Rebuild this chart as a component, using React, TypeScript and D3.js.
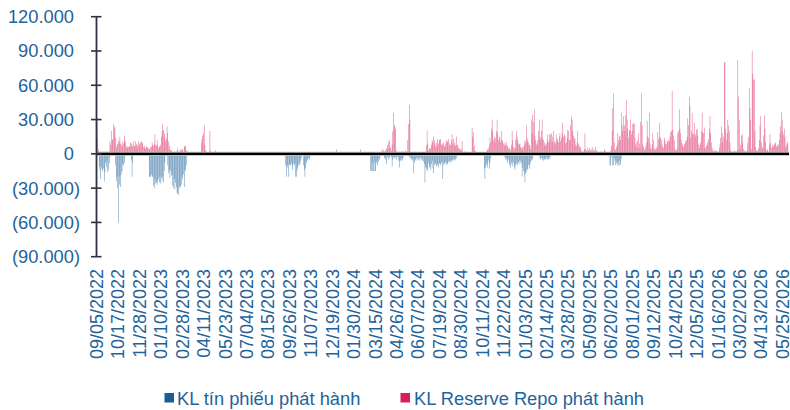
import React from "react";
import * as d3 from "d3";

// ---- Data (values in thousand billion VND; one entry per trading day) ----
const tickLabels = [
  "09/05/2022", "10/17/2022", "11/28/2022", "01/10/2023", "02/28/2023", "04/11/2023",
  "05/23/2023", "07/04/2023", "08/15/2023", "09/26/2023", "11/07/2023", "12/19/2023",
  "01/30/2024", "03/15/2024", "04/26/2024", "06/07/2024", "07/19/2024", "08/30/2024",
  "10/11/2024", "11/22/2024", "01/03/2025", "02/14/2025", "03/28/2025", "05/09/2025",
  "06/20/2025", "08/01/2025", "09/12/2025", "10/24/2025", "12/05/2025", "01/16/2026",
  "03/02/2026", "04/13/2026", "05/25/2026",
];
const tickEvery = 30;
const dayCount = 968;

const yTicks = [-90, -60, -30, 0, 30, 60, 90, 120];

// KL Reserve Repo phát hành (positive)
const repo2022 = [28, 14, 4, 2, 1, 2, 1, 2, 1, 2, 1, 2, 1, 2, 1, 2, 1, 2,
  11, 8, 20, 12, 13, 26, 22, 24, 14, 6, 8, 9, 12, 10, 15, 9, 8, 6, 11, 9, 16, 12, 10, 6, 7, 5, 6, 7, 6,
  10, 9, 8, 6, 11, 7, 7, 11, 9, 8, 6, 11, 9, 7, 10, 11, 9, 10, 6, 7, 5, 5, 7, 6, 5, 5, 4, 4, 6, 6,
  10, 8, 7, 9, 17, 8, 7, 12, 8, 5, 6, 7, 8, 15, 20, 26, 21, 18, 15, 11, 13, 24, 18, 11, 7, 4, 3, 3,
  2, 2, 1, 2, 1, 2, 1, 3, 5, 2, 2, 2, 4, 3, 4, 4, 2, 6, 7, 7, 3, 2, 2];
const repo2023 = [10, 13, 16, 18, 25, 8, 3, 2, 0, 0, 0, 0, 20, 3, 0, 0, 0, 0, 0, 2, 3, 1];
const repo2023b = [4];
const repo2024a = [4];
const repo2024 = [2, 0, 4, 3, 0, 2, 3, 5, 4, 8, 10, 12, 6, 5, 3, 8, 20, 36, 25, 24, 22, 3, 0, 1, 0, 2,
  1, 1, 2, 0, 2, 2, 0, 1, 3, 2, 1, 12, 26, 43, 30, 2,
  1, 1, 0, 1, 2, 1, 0, 1, 2, 1, 0, 1, 1, 1, 1, 0, 1, 1, 0, 1, 2, 7, 20, 9, 3, 5, 4, 5, 8, 12, 10, 15,
  12, 9, 6, 10, 7, 13, 9, 12, 12, 13, 8, 8, 9, 10, 7, 6, 9, 12, 11, 10, 13, 9, 7, 8, 12, 17, 9, 13,
  8, 10, 7, 15, 7, 8, 5, 4, 5, 3, 4, 11, 2, 1, 2, 2, 1, 1, 0, 1, 0, 0, 1, 0, 0, 23, 15, 19, 7, 3, 2,
  1, 1, 0, 0, 0, 0, 0, 0, 0, 0, 0, 0, 0, 1, 2, 3, 4, 5, 8, 14, 10, 22, 30, 20, 12, 15, 10, 14, 20,
  30, 18, 12, 15, 14, 10, 20, 12, 11, 9, 7, 10, 8, 10, 6, 7, 5, 4, 5, 3, 8, 20, 12, 6, 4, 5, 12, 20,
  15, 12, 9, 8, 9, 6, 5, 6, 4, 6, 8, 12, 10, 25, 14, 11, 10, 8, 7, 4, 30, 18, 34, 28, 39, 16, 12, 8,
  9, 12, 20, 30, 15, 13, 20, 30, 14, 12, 10, 8, 7, 9, 12, 17, 10, 17, 12, 17, 18, 10, 15, 20, 11, 8,
  10, 17, 12, 13, 10, 15, 18, 11, 14, 18, 27, 15, 17, 16, 9, 10, 14, 21];
const repo2025 = [20, 12, 12, 25, 33, 30, 20, 16, 14, 13, 8, 7, 10, 20, 9, 7, 5, 6, 3, 2, 1, 2, 4, 18,
  4, 3, 2, 6, 3, 5, 2, 4, 3, 6, 2, 4, 3, 2, 6, 3, 2, 1, 2, 1, 1, 2, 1, 2, 1, 2, 4, 3, 1, 0, 1, 0, 1,
  0, 1, 3, 7, 20, 40, 53, 10, 4, 3, 6, 8, 18, 12, 15, 16, 12, 36, 25, 20, 33, 25, 20, 34, 47, 30, 22,
  14, 21, 20, 30, 17, 20, 26, 27, 26, 14, 8, 10, 5, 12, 18, 9, 5, 28, 53, 25, 8, 6, 4, 3, 6, 10, 29,
  15, 14, 36, 9, 5, 4, 8, 18, 12, 5, 3, 4, 5, 6, 19, 13, 27, 15, 14, 12, 8, 6, 5, 14, 12, 9, 8, 11,
  10, 12, 11, 15, 19, 20, 55, 21, 16, 12, 4, 3, 3, 5, 18, 20, 39, 22, 18, 12, 9, 7, 6, 8, 9, 11, 12,
  15, 31, 25, 50, 42, 14, 20, 36, 17, 18, 27, 15, 17, 21, 22, 16, 8, 5, 8, 10, 20, 36, 19, 18, 23, 6,
  4, 7, 8, 10, 13, 22, 33, 18, 10, 5, 2, 3, 2, 3, 2, 3, 2, 1, 2, 5, 8, 14, 24, 18, 10, 15, 80, 80, 22,
  12, 18, 30, 25, 20, 10, 3, 2, 2, 1, 2, 3, 2, 2, 2, 3, 82, 50, 30, 4, 8, 16, 17, 10, 4, 3, 2, 2, 2, 3,
  10, 15, 58, 40, 30, 4, 90, 70, 65, 65, 20, 6, 3, 2, 3, 5, 12, 25, 33, 10, 6, 5, 16, 34, 22, 10, 3,
  4, 3, 2, 8, 17, 10, 5, 6, 8, 7, 8, 9, 10, 7, 6, 8, 8, 12, 18, 24, 37, 30, 20, 17, 22, 15, 6, 8, 11, 9];
const repoChunks: [number, number[]][] = [
  [0, repo2022], [146, repo2023], [335, repo2023b], [369, repo2024a], [398, repo2024], [660, repo2025],
];

// KL tín phiếu phát hành (negative)
const bill2022a = [-11, -14, -22, -12, -14, -15, -13, -24, -16, -8, -11, -6, -16, -14, -8, -3];
const bill2022b = [-10, -24, -20, -30, -60, -27, -20, -29, -18, -15, -9, -10, -8, -3];
const bill2022c = [-5, -20, -8];
const bill2023a = [-20, -20, -20, -18, -20, -20, -28, -30, -22, -26, -25, -27, -24, -22, -25, -20, -26,
  -21, -24, -20, -25, -15, -8];
const bill2023b = [-10, -17, -14, -21, -15, -19, -18, -28, -30, -22, -31, -25, -29, -34, -35, -36, -30,
  -28, -29, -27, -20, -22, -18, -29, -15, -14, -10];
const bill2023c = [-10, -20, -12, -10, -20, -10, -9, -10, -8, -10, -14, -9, -10, -8, -20, -20, -15, -12,
  -10, -8, -10, -6, -4, 0, 0, -10, -14, -20, -12, -8, -6, -5, -4, -5, -3];
const bill2024a = [-15, -15, -8, -15, -15, -7, -15, -15, -8, -6, -10, -7, -5, -4, 0, 0, -1, -2, 0, -3, -4,
  -5, -9, -2, -3, -5, -4, -2, -2, -3, -11, -5, -3, -4, -3, -3, -5, -2, -3, -6, -12, -6, -6, -5, -4, -6,
  -3, -2, -1, 0, 0, -2, -1, -2, -3, -2, -4, -5, -6, -4, -17, -8, -6, -5, -4, -6, -3, -5, -4, -6, -3, -5,
  -4, -6, -7, -9, -25, -12, -14, -12, -15, -8, -12, -10, -14, -9, -13, -6, -17, -10, -8, -9, -11, -10,
  -9, -12, -8, -9, -10, -8, -7, -22, -10, -9, -8, -7, -10, -8, -9, -7, -6, -8, -6, -7, -5, -6, -5, -6,
  -4, -5, -4];
const bill2024b = [-13, -22, -12, -10, -8, -12, -6, -13, -8, -4];
const bill2025a = [-3, -5, -4, -6, -8, -5, -10, -7, -12, -9, -6, -11, -8, -12, -14, -10, -9, -7, -10, -8,
  -6, -9, -6, -8, -20, -12, -15, -18, -25, -17, -16, -14, -13, -10, -13, -9, -7, -6, -5, -4];
const bill2025b = [-4, -5, -3, -5, -4, -6, -5, -4, -5, -3, -5, -4, -5, -3, -4];
const bill2025c = [-10, -10, -3, -2, -10, -10, -4, -6, -10, -8, -10, -7, -10, -6, -10, -9, -4];
const billChunks: [number, number[]][] = [
  [3, bill2022a], [26, bill2022b], [48, bill2022c], [73, bill2023a], [99, bill2023b], [264, bill2023c],
  [383, bill2024a], [542, bill2024b], [571, bill2025a], [620, bill2025b], [718, bill2025c],
];

const seriesNames = ["KL tín phiếu phát hành", "KL Reserve Repo phát hành"];
const seriesColors = ["#1B5E96", "#D81F5A"];

function expand(chunks: [number, number[]][]): number[] {
  const out = new Array(dayCount).fill(0);
  chunks.forEach(([start, vals]) => vals.forEach((v, k) => { if (start + k < dayCount) out[start + k] = v; }));
  return out;
}

const W = 790, H = 410;
const textColor = "#1F639B";
const font = "'Liberation Sans', Arial, sans-serif";

export default function App() {
  const repo = expand(repoChunks);
  const bills = expand(billChunks);
  const idx = d3.range(dayCount);
  const x = d3.scaleBand<number>().domain(idx).range([96.7, 788.2]).padding(0);
  const y = d3.scaleLinear().domain([-90, 120]).range([256.7, 16.7]);
  const bw = x.bandwidth();
  const barW = bw * 0.6;
  const fmt = (v: number) => (v === 0 ? "0" : v < 0 ? `(${Math.abs(v)}.000)` : `${v}.000`);
  const axisX = 96.5;

  return (
    <svg width={W} height={H} style={{ position: "fixed", left: 0, top: 0, background: "#fff" }}
      fontFamily={font}>
      {/* bars */}
      <g>
        {idx.map((i) => bills[i] !== 0 ? (
          <rect key={"b" + i} x={(x(i) as number) + (bw - barW) / 2} y={y(0)} width={barW}
            height={y(bills[i]) - y(0)} fill={seriesColors[0]} fillOpacity={0.85} />
        ) : null)}
        {idx.map((i) => repo[i] !== 0 ? (
          <rect key={"r" + i} x={(x(i) as number) + (bw - barW) / 2} y={y(repo[i])} width={barW}
            height={y(0) - y(repo[i])} fill={seriesColors[1]} fillOpacity={0.85} />
        ) : null)}
      </g>
      {/* zero line */}
      <line x1={axisX} x2={789} y1={y(0)} y2={y(0)} stroke="#bdbdbd" strokeWidth={4} />
      <line x1={axisX} x2={789} y1={y(0)} y2={y(0)} stroke="#000" strokeWidth={2.2} />
      {/* y axis */}
      <line x1={axisX} x2={axisX} y1={y(120)} y2={y(-90)} stroke="#2E3140" strokeWidth={1.8} />
      {yTicks.map((t) => (
        <g key={t}>
          <line x1={axisX - 5.5} x2={axisX + 5} y1={y(t)} y2={y(t)} stroke="#2E3140" strokeWidth={1.6} />
          <text x={t < 0 ? 80 : 74} y={y(t)} dy="0.35em" textAnchor="end" fontSize={18.3} fill={textColor}>
            {fmt(t)}
          </text>
        </g>
      ))}
      {/* x labels */}
      {tickLabels.map((lab, k) => {
        const cx = (x(k * tickEvery) as number) + bw / 2;
        return (
          <text key={lab} transform={`translate(${cx},269) rotate(-90)`} dy="0.33em" textAnchor="end"
            fontSize={18} fill={textColor}>{lab}</text>
        );
      })}
      {/* legend */}
      <rect x={164.5} y={393} width={9.5} height={9.5} fill={seriesColors[0]} />
      <text x={177} y={404.5} fontSize={18.3} fill={textColor}>{seriesNames[0]}</text>
      <rect x={400.5} y={393} width={9.5} height={9.5} fill={seriesColors[1]} />
      <text x={414} y={404.5} fontSize={18.3} fill={textColor}>{seriesNames[1]}</text>
    </svg>
  );
}
